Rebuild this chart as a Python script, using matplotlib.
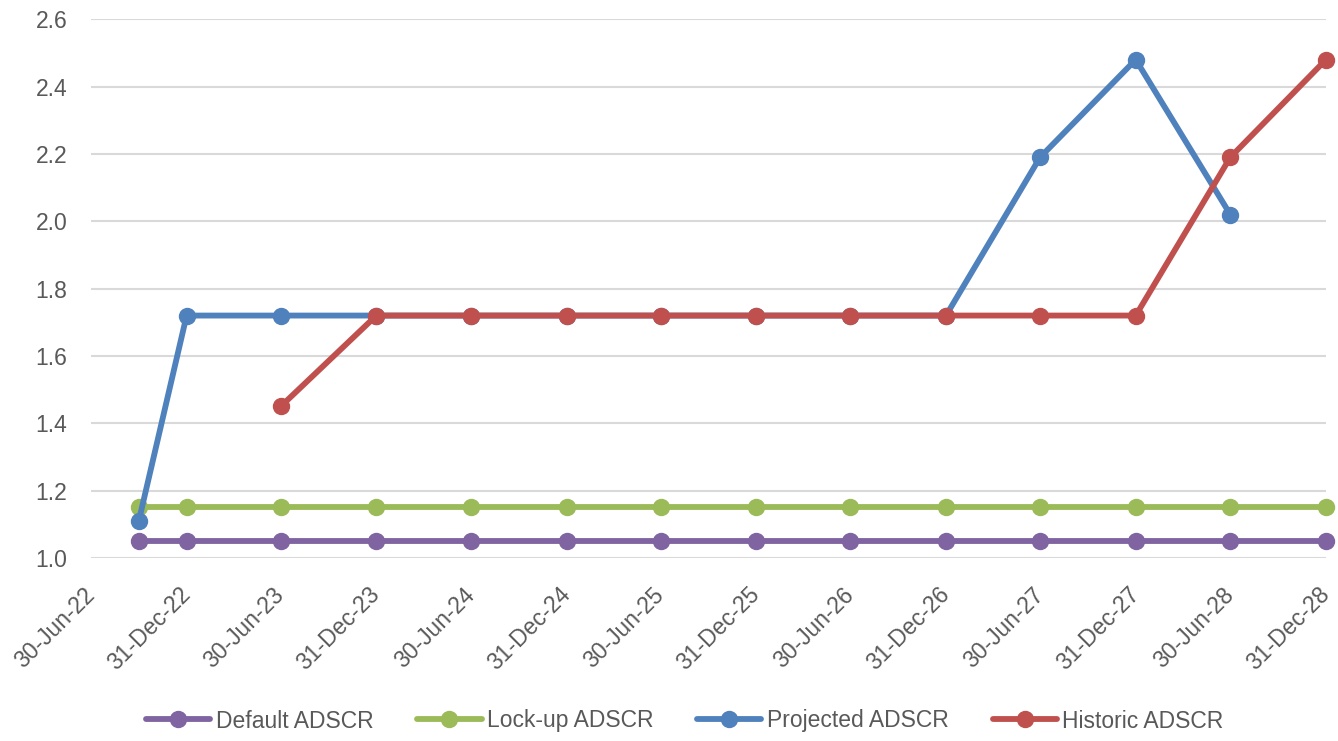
import numpy as np
import pandas as pd
import matplotlib
matplotlib.use("Agg")
import matplotlib.pyplot as plt
import matplotlib.dates as mdates

# data
dates = pd.to_datetime(["2022-09-30", "2022-12-31", "2023-06-30", "2023-12-31", "2024-06-30",
                        "2024-12-31", "2025-06-30", "2025-12-31", "2026-06-30", "2026-12-31",
                        "2027-06-30", "2027-12-31", "2028-06-30", "2028-12-31"])
default_adscr = [1.05] * 14
lockup_adscr = [1.15] * 14
projected_adscr = [1.11, 1.72, 1.72, 1.72, 1.72, 1.72, 1.72, 1.72, 1.72, 1.72, 2.19, 2.48, 2.02, np.nan]
historic_adscr = [np.nan, np.nan, 1.45, 1.72, 1.72, 1.72, 1.72, 1.72, 1.72, 1.72, 1.72, 1.72, 2.19, 2.48]

tick_dates = pd.to_datetime(["2022-06-30", "2022-12-31", "2023-06-30", "2023-12-31", "2024-06-30",
                             "2024-12-31", "2025-06-30", "2025-12-31", "2026-06-30", "2026-12-31",
                             "2027-06-30", "2027-12-31", "2028-06-30", "2028-12-31"])

series = [
    ("Default ADSCR", default_adscr, "#8064A2"),
    ("Lock-up ADSCR", lockup_adscr, "#9BBB59"),
    ("Projected ADSCR", projected_adscr, "#4F81BD"),
    ("Historic ADSCR", historic_adscr, "#C0504D"),
]

plt.rcParams['font.family'] = ['Liberation Sans', 'DejaVu Sans']

fig = plt.figure(figsize=(13.38, 7.41), dpi=100)
ax = fig.add_axes([0.068, 0.247, 0.923, 0.727])

for name, vals, col in series:
    ax.plot(dates, vals, color=col, lw=4.2, marker="o", markersize=11.5,
            solid_capstyle="round", label=name, clip_on=False)

ax.set_ylim(1.0, 2.6)
ax.set_yticks(np.arange(1.0, 2.61, 0.2))
ax.yaxis.set_major_formatter(matplotlib.ticker.FormatStrFormatter("%.1f"))
ax.set_xlim(tick_dates[0], tick_dates[-1])
ax.set_xticks(tick_dates)
ax.xaxis.set_major_formatter(mdates.DateFormatter("%d-%b-%y"))

ax.grid(axis="y", color="#D9D9D9", lw=1.5)
ax.set_axisbelow(True)
for s in ax.spines.values():
    s.set_visible(False)
ax.tick_params(axis="both", length=0, colors="#595959", labelsize=16.5)
ax.tick_params(axis="y", pad=17)
ax.tick_params(axis="x", pad=24)
for lbl in ax.get_xticklabels():
    lbl.set_rotation(45)
    lbl.set_ha("right")
    lbl.set_va("center")
    lbl.set_rotation_mode("anchor")

fig.legend(loc="center", bbox_to_anchor=(685 / 1338, 1 - 721 / 741), ncol=4,
           frameon=False, fontsize=16.5, handlelength=2.8, columnspacing=1.9,
           handletextpad=0.25, labelcolor="#595959")

fig.savefig("out.png", dpi=100)
